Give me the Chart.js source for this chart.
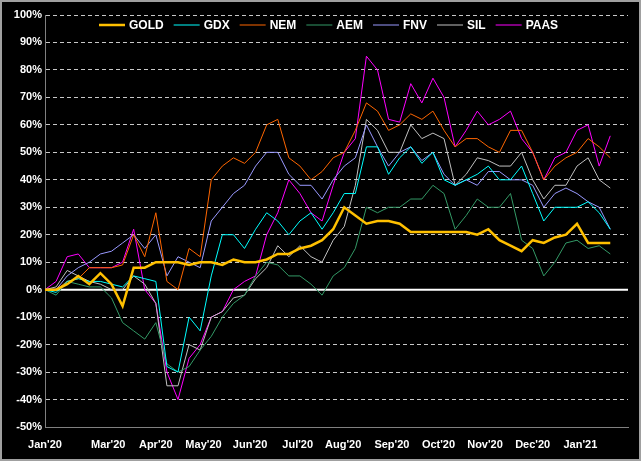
<!DOCTYPE html>
<html><head><meta charset="utf-8">
<script src="https://cdn.jsdelivr.net/npm/chart.js@4"></script>
<style>html,body{margin:0;background:#000}#wrap{width:641px;height:461px}</style>
</head><body><div id="wrap"><canvas id="c"></canvas></div>
<script>
// weekly samples, Jan 2020 .. Jan 2021 (% change from start)
const names = ['GOLD', 'GDX', 'NEM', 'AEM', 'FNV', 'SIL', 'PAAS'];
const colors = ['#FFC000', '#00FFFF', '#FF6600', '#339966', '#9999FF', '#C0C0C0', '#FF00FF'];
const gold = [0,0,2,5,2,6,2,-6,8,8,10,10,10,9,10,10,9,11,10,10,11,13,13,15,16,18,22,30,27,24,25,25,24,21,21,21,21,21,21,20,22,18,16,14,18,17,19,20,24,17,17,17];
const gdx  = [0,-1,3,4,3,3,2,1,5,4,3,-28,-30,-10,-15,5,20,20,15,22,28,25,20,25,28,22,28,35,35,52,52,42,48,52,46,50,40,38,40,42,45,40,40,45,35,25,30,30,30,32,28,22];
const nem  = [0,0,3,4,8,8,8,9,20,12,28,3,0,15,12,40,45,48,46,50,60,62,48,45,40,43,48,50,58,68,65,58,60,64,62,65,58,52,55,55,52,50,58,58,50,40,45,48,50,55,52,48];
const aem  = [0,-2,3,2,1,1,-3,-12,-15,-18,-12,-27,-30,-28,-22,-17,-10,-5,-2,5,10,9,5,5,2,-2,5,8,15,30,28,30,30,33,33,38,35,22,27,33,30,30,35,18,15,5,10,17,18,15,16,13];
const fnv  = [0,0,5,8,10,13,14,17,20,15,20,5,12,10,8,25,30,35,38,45,50,50,42,38,38,33,40,45,48,60,52,45,50,52,47,50,42,38,40,38,43,43,40,40,38,30,35,37,35,32,30,22];
const sil  = [0,1,7,5,3,2,0,0,5,2,-5,-35,-35,-20,-22,-10,-8,-3,-2,4,8,16,12,16,12,10,18,23,38,62,58,50,50,60,55,57,55,38,42,48,47,45,45,50,40,33,38,38,45,48,40,37];
const paas = [0,3,12,13,8,8,8,10,22,0,-5,-30,-40,-25,-20,-10,-8,0,3,5,20,28,40,35,28,25,38,50,55,85,80,62,61,75,68,77,70,52,58,65,60,62,65,55,50,40,48,50,58,60,45,56];
const series = [gold, gdx, nem, aem, fnv, sil, paas];
const tickLabels = ["Jan'20", "Mar'20", "Apr'20", "May'20", "Jun'20", "Jul'20", "Aug'20", "Sep'20", "Oct'20", "Nov'20", "Dec'20", "Jan'21"];
const tickPos = [0, 5.7, 10, 14.3, 18.5, 22.8, 26.9, 31.3, 35.5, 39.7, 44, 48.3];

const font = { family: 'Arial, "Liberation Sans"', size: 11, weight: 'bold' };

const framePlugin = {
  id: 'frame',
  beforeDraw(chart) {
    const { ctx, width, height } = chart;
    ctx.save();
    ctx.fillStyle = '#000';
    ctx.fillRect(0, 0, width, height);
    ctx.strokeStyle = '#a0a0a0';
    ctx.lineWidth = 2;
    ctx.strokeRect(1, 1, width - 2, height - 2);
    ctx.restore();
  },
  beforeDatasetsDraw(chart) {
    const { ctx, chartArea: a, scales: { y } } = chart;
    const y0 = y.getPixelForValue(0);
    ctx.save();
    ctx.strokeStyle = '#fff';
    ctx.lineWidth = 2;
    ctx.beginPath(); ctx.moveTo(a.left, y0); ctx.lineTo(a.right, y0); ctx.stroke();
    ctx.restore();
  },
  afterDraw(chart) {
    // legend drawn inside the plot area
    const { ctx } = chart;
    ctx.save();
    ctx.font = 'bold 12px Arial, "Liberation Sans"';
    ctx.textBaseline = 'middle';
    let x = 99;
    const yy = 25;
    ctx.fillStyle = '#000';
    ctx.fillRect(92, 16, 490, 18);
    chart.data.datasets.forEach(ds => {
      ctx.strokeStyle = ds.borderColor;
      ctx.lineWidth = ds.label === 'GOLD' ? 2.5 : 1;
      ctx.beginPath(); ctx.moveTo(x, yy); ctx.lineTo(x + 26, yy); ctx.stroke();
      ctx.fillStyle = '#fff';
      ctx.fillText(ds.label, x + 30, yy + 1);
      x += 30 + ctx.measureText(ds.label).width + 10;
    });
    ctx.restore();
  }
};

new Chart(document.getElementById('c'), {
  type: 'line',
  data: {
    datasets: series.map((s, k) => ({
      label: names[k],
      data: s.map((v, i) => ({ x: i, y: v })),
      borderColor: colors[k],
      borderWidth: k === 0 ? 2.5 : 1,
      pointRadius: 0,
      tension: 0,
      order: k === 0 ? 0 : 1
    }))
  },
  options: {
    animation: false,
    responsive: true,
    maintainAspectRatio: false,
    layout: { padding: { top: 15, right: 13, left: 0, bottom: 0 } },
    plugins: { legend: { display: false }, tooltip: { enabled: false } },
    scales: {
      x: {
        type: 'linear', min: 0, max: 52.6,
        afterBuildTicks: s => { s.ticks = tickPos.map(v => ({ value: v })); },
        afterFit: s => { s.height = 34; },
        ticks: { color: '#fff', font, maxRotation: 0, autoSkip: false,
          callback: (v, i) => tickLabels[i] },
        grid: { display: false },
        border: { color: '#808080' }
      },
      y: {
        min: -50, max: 100,
        afterFit: s => { s.width = 45; },
        ticks: { stepSize: 10, color: '#fff', font, callback: v => v + '%' },
        grid: { color: '#c8c8c8', drawTicks: false },
        border: { color: '#808080', dash: [4, 3] }
      }
    }
  },
  plugins: [framePlugin]
});
</script></body></html>
